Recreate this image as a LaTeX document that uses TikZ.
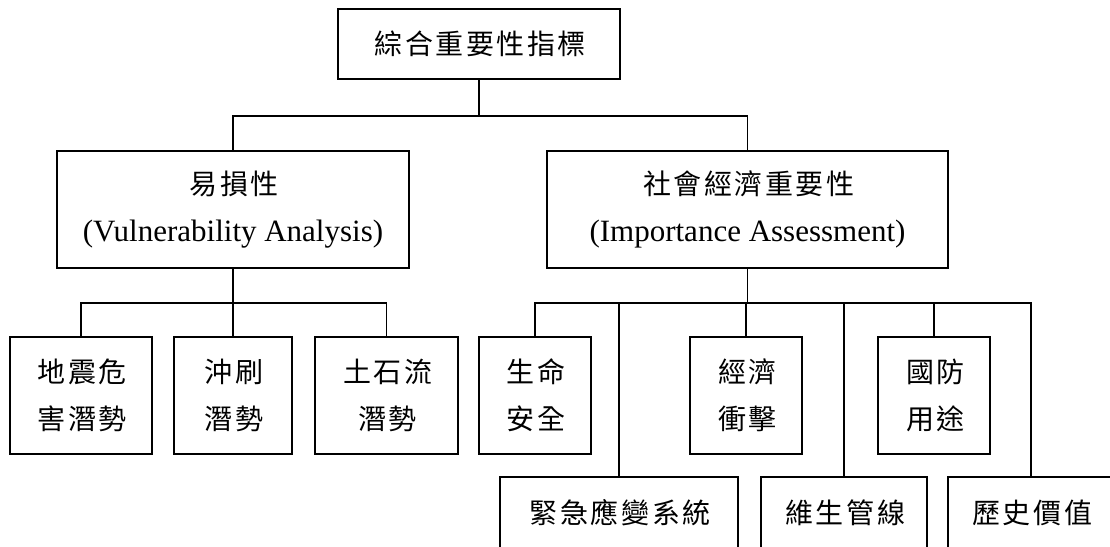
\documentclass[tikz,border=0pt]{standalone}
\usepackage{fontspec}
\usetikzlibrary{calc}
\setmainfont{Liberation Serif}
\newfontfamily\cjk[LetterSpace=9]{Noto Sans CJK TC}
\newcommand\zh[1]{{\cjk\fontsize{28pt}{47pt}\selectfont #1\kern-2.5pt}}

\begin{document}
\begin{tikzpicture}[x=1pt, y=-1pt,
  box/.style={draw, line width=2pt, inner sep=0pt, align=center,
              font=\fontsize{31pt}{47pt}\selectfont},
  link/.style={line width=1.7pt}]
\useasboundingbox (0,0) rectangle (1110,546);
\clip (0,0) rectangle (1110,546);

% top level
\node[box, minimum width=282, minimum height=70] (root) at (479,44) {\zh{綜合重要性指標}};

% second level
\node[box, minimum width=352, minimum height=117] (vul) at (233,209.5)
  {\zh{易損性}\\(Vulnerability Analysis)};
\node[box, minimum width=401, minimum height=117] (imp) at (747.5,209.5)
  {\zh{社會經濟重要性}\\(Importance Assessment)};

% vulnerability factors
\node[box, minimum width=142, minimum height=117] (quake) at (81,395.5) {\zh{地震危}\\\zh{害潛勢}};
\node[box, minimum width=118, minimum height=117] (scour) at (233,395.5) {\zh{沖刷}\\\zh{潛勢}};
\node[box, minimum width=143, minimum height=117] (debris) at (386.5,395.5) {\zh{土石流}\\\zh{潛勢}};

% importance factors, upper row
\node[box, minimum width=112, minimum height=117] (life) at (535,395.5) {\zh{生命}\\\zh{安全}};
\node[box, minimum width=112, minimum height=117] (econ) at (746,395.5) {\zh{經濟}\\\zh{衝擊}};
\node[box, minimum width=112, minimum height=117] (defense) at (934,395.5) {\zh{國防}\\\zh{用途}};

% importance factors, lower row
\node[box, minimum width=238, minimum height=71] (emerg) at (619,512.5) {\zh{緊急應變系統}};
\node[box, minimum width=166, minimum height=71] (lifeline) at (844,512.5) {\zh{維生管線}};
\node[box, minimum width=166, minimum height=71] (hist) at (1031,512.5) {\zh{歷史價值}};

% junctions of the bus lines
\coordinate (j1) at ($(root.south)+(0,36)$);
\coordinate (j2) at ($(vul.south)+(0,34)$);
\coordinate (j3) at ($(imp.south)+(0,34)$);

% connectors
\draw[link] (root.south) -- (j1);
\draw[link] (vul.north) |- (j1) -| (imp.north);

\draw[link] (vul.south) -- (j2);
\draw[link] (quake.north) |- (j2) -| (debris.north);
\draw[link] (scour.north) -- (j2);

\draw[link] (imp.south) -- (j3);
\draw[link] (life.north) |- (j3) -| (hist.north);
\draw[link] (emerg.north) |- (j3);
\draw[link] (econ.north) |- (j3);
\draw[link] (lifeline.north) |- (j3);
\draw[link] (defense.north) |- (j3);
\end{tikzpicture}
\end{document}
